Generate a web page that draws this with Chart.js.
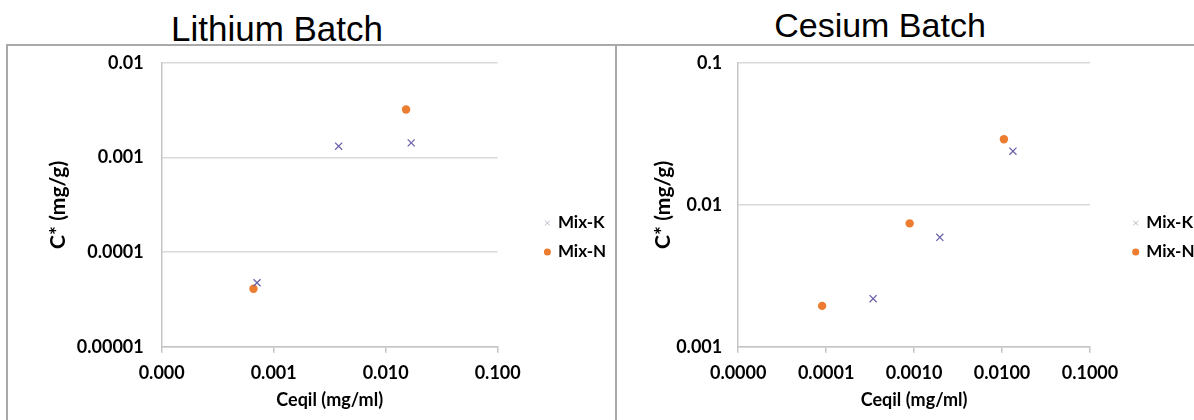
<!DOCTYPE html>
<html>
<head>
<meta charset="utf-8">
<script src="https://cdn.jsdelivr.net/npm/chart.js@4.4.1/dist/chart.umd.min.js"></script>
<style>
  html, body { margin: 0; padding: 0; background: #fff; }
  body { width: 1194px; height: 420px; position: relative; overflow: hidden; }
  .title { position: absolute; font-family: "Liberation Sans", Arial, sans-serif; font-size: 34px; line-height: 34px; color: #000; white-space: nowrap; transform: translateX(-50%); }
  .line { position: absolute; background: #a9a9a9; }
  canvas { position: absolute; top: 0; }
</style>
</head>
<body>
<div class="title" style="left:277px; top:12px; font-size:35px">Lithium Batch</div>
<div class="title" style="left:880px; top:8px">Cesium Batch</div>
<canvas id="liChart" width="640" height="420" style="left:0"></canvas>
<canvas id="csChart" width="620" height="420" style="left:616px"></canvas>
<div class="line" style="left:6px; top:44px; width:1188px; height:2px"></div>
<div class="line" style="left:6px; top:44px; width:2px; height:376px"></div>
<div class="line" style="left:615px; top:44px; width:2px; height:376px"></div>
<script>
// series names
var seriesK = 'Mix-K';
var seriesN = 'Mix-N';

// Lithium batch
var liKx = [0.00071, 0.0038, 0.0169];
var liKy = [0.0000475, 0.00132, 0.00143];
var liNx = [0.00066, 0.0152];
var liNy = [0.000041, 0.00322];
var liXTicks = [0.0001, 0.001, 0.01, 0.1];
var liXLabels = ['0.000', '0.001', '0.010', '0.100'];
var liYTicks = [0.00001, 0.0001, 0.001, 0.01];
var liYLabels = ['0.00001', '0.0001', '0.001', '0.01'];

// Cesium batch
var csKx = [0.000342, 0.00196, 0.0133];
var csKy = [0.00218, 0.0059, 0.0239];
var csNx = [0.00009, 0.00089, 0.0105];
var csNy = [0.00194, 0.0074, 0.029];
var csXTicks = [0.00001, 0.0001, 0.001, 0.01, 0.1];
var csXLabels = ['0.0000', '0.0001', '0.0010', '0.0100', '0.1000'];
var csYTicks = [0.001, 0.01, 0.1];
var csYLabels = ['0.001', '0.01', '0.1'];

var xTitle = 'Ceqil (mg/ml)';
var yTitle = 'C* (mg/g)';

var colorK = '#6b63ab';
var colorN = '#ec7c30';
var gridColor = '#d9d9d9';
var axisColor = '#c4c4c4';

var tickFont = { family: 'Lato', size: 18, weight: 'bold' };
var xTitleFont = { family: 'Lato', size: 18, weight: 'bold' };
var yTitleFont = { family: 'Lato', size: 21, weight: 'bold' };
var legendFont = { family: 'Lato', size: 17, weight: 'bold' };
var legendBox = 4;
var legendPad = 12;

function toPoints(xs, ys) {
    return xs.map(function(x, i) { return { x: x, y: ys[i] }; });
}

// legend width roughly as Chart.js measures it (padding + box + fontSize/2 + text + extra)
function legendWidth() {
    var ctx = document.createElement('canvas').getContext('2d');
    ctx.font = 'bold ' + legendFont.size + 'px Lato';
    var tw = Math.max(ctx.measureText(seriesK).width, ctx.measureText(seriesN).width);
    return legendPad + legendBox + legendFont.size / 2 + tw + 7.7;
}

function makeChart(canvasId, o) {
    var canvas = document.getElementById(canvasId);
    var chartLeft = o.chartLeft, chartRight = o.chartRight;
    var padRight = canvas.width - (chartRight + o.gap) - legendWidth();
    var yTitleLine = yTitleFont.size * 1.2;
    var xTitleLine = xTitleFont.size * 1.2;
    return new Chart(canvas, {
        type: 'scatter',
        data: {
            datasets: [
                {
                    label: seriesK,
                    data: toPoints(o.kx, o.ky),
                    pointStyle: 'crossRot',
                    pointRadius: 5,
                    borderColor: colorK,
                    backgroundColor: colorK,
                    borderWidth: 1.3
                },
                {
                    label: seriesN,
                    data: toPoints(o.nx, o.ny),
                    pointStyle: 'circle',
                    pointRadius: 4.2,
                    borderColor: colorN,
                    backgroundColor: colorN,
                    borderWidth: 0
                }
            ]
        },
        options: {
            responsive: false,
            animation: false,
            devicePixelRatio: 1,
            layout: { padding: { left: 20, top: 63, right: padRight, bottom: 8 } },
            plugins: {
                tooltip: { enabled: false },
                legend: {
                    position: 'right',
                    labels: {
                        usePointStyle: true,
                        boxWidth: legendBox,
                        boxHeight: 5,
                        padding: legendPad,
                        color: '#000',
                        font: legendFont,
                        generateLabels: function(chart) {
                            var items = Chart.defaults.plugins.legend.labels.generateLabels(chart);
                            items.forEach(function(it) {
                                if (it.text === seriesK) { it.strokeStyle = '#b9b9c6'; it.lineWidth = 1; }
                            });
                            return items;
                        }
                    }
                }
            },
            scales: {
                x: {
                    type: 'logarithmic',
                    min: o.xTicks[0],
                    max: o.xTicks[o.xTicks.length - 1],
                    afterBuildTicks: function(s) { s.ticks = o.xTicks.map(function(v) { return { value: v }; }); },
                    afterFit: function(s) { s.height = 65.3; },
                    ticks: {
                        color: '#000',
                        font: tickFont,
                        padding: 10,
                        maxRotation: 0,
                        callback: function(v, i) { return o.xLabels[i]; }
                    },
                    grid: { drawOnChartArea: false, drawTicks: true, tickLength: 6, color: axisColor, lineWidth: 1.5 },
                    border: { color: axisColor, width: 1.5 },
                    title: { display: true, text: xTitle, color: '#000', font: xTitleFont, padding: { top: 0, bottom: 412 - 400 - xTitleLine / 2 } }
                },
                y: {
                    type: 'logarithmic',
                    min: o.yTicks[0],
                    max: o.yTicks[o.yTicks.length - 1],
                    afterBuildTicks: function(s) { s.ticks = o.yTicks.map(function(v) { return { value: v }; }); },
                    afterFit: function(s) { s.width = chartLeft - 20; },
                    ticks: {
                        color: '#000',
                        font: tickFont,
                        padding: o.yPad,
                        callback: function(v, i) { return o.yLabels[i]; }
                    },
                    grid: { color: gridColor, lineWidth: 1.5, drawTicks: false },
                    border: { color: axisColor, width: 1.5 },
                    title: { display: true, text: yTitle, color: '#000', font: yTitleFont, padding: { top: o.yTitleX - 20 - yTitleLine / 2, bottom: 0 } }
                },
                gap: {
                    type: 'linear',
                    position: 'right',
                    display: true,
                    grid: { display: false },
                    border: { display: false },
                    ticks: { display: false },
                    afterFit: function(s) { s.width = o.gap; }
                }
            }
        }
    });
}

makeChart('liChart', {
    kx: liKx, ky: liKy, nx: liNx, ny: liNy,
    xTicks: liXTicks, xLabels: liXLabels, yTicks: liYTicks, yLabels: liYLabels,
    chartLeft: 161.7, chartRight: 500, yPad: 18, yTitleX: 58, gap: 35.7
});

makeChart('csChart', {
    kx: csKx, ky: csKy, nx: csNx, ny: csNy,
    xTicks: csXTicks, xLabels: csXLabels, yTicks: csYTicks, yLabels: csYLabels,
    chartLeft: 122.2, chartRight: 476.3, yPad: 16, yTitleX: 47, gap: 31.7
});
</script>
</body>
</html>
